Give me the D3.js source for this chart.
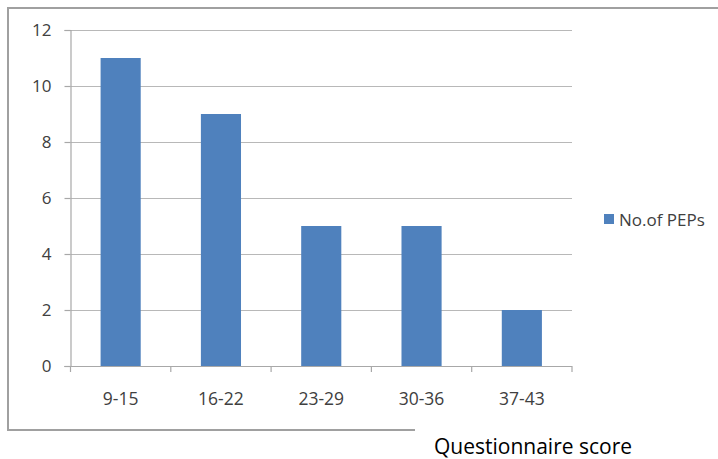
<!DOCTYPE html>
<html>
<head>
<meta charset="utf-8">
<script src="https://cdn.jsdelivr.net/npm/d3@7"></script>
<style>
  html, body { margin: 0; padding: 0; background: #fff; }
  svg { display: block; }
</style>
</head>
<body>
<svg id="chart" width="718" height="459"></svg>
<script>
// Score bands and number of PEPs in each band
const categories = ["9-15", "16-22", "23-29", "30-36", "37-43"];
const counts = [11, 9, 5, 5, 2];
const yTicks = [0, 2, 4, 6, 8, 10, 12];
const seriesName = "No.of PEPs";
const axisTitle = "Questionnaire score";

const svg = d3.select("#chart");
const font = "'Open Sans', 'Liberation Sans', sans-serif";
const textColor = "#404040";

// Outer chart frame (right side runs off the canvas; bottom stops short of the title)
svg.append("path")
  .attr("d", "M718,8 H8 V430 H415")
  .attr("fill", "none")
  .attr("stroke", "#a0a0a0")
  .attr("stroke-width", 2);

const plot = { left: 70.5, right: 572, top: 30, bottom: 366 };

const x = d3.scaleBand()
  .domain(categories)
  .range([plot.left, plot.right])
  .paddingInner(0.6)
  .paddingOuter(0.3);

const y = d3.scaleLinear()
  .domain([0, 12])
  .range([plot.bottom, plot.top]);

// Horizontal gridlines
svg.append("g")
  .selectAll("line")
  .data(yTicks.filter(d => d > 0))
  .join("line")
  .attr("x1", plot.left)
  .attr("x2", plot.right)
  .attr("y1", d => Math.round(y(d)) + 0.5)
  .attr("y2", d => Math.round(y(d)) + 0.5)
  .attr("stroke", "#b8b8b8")
  .attr("stroke-width", 1.2);

// Bars
svg.append("g")
  .selectAll("rect")
  .data(counts)
  .join("rect")
  .attr("x", (d, i) => x(categories[i]))
  .attr("y", d => y(d))
  .attr("width", x.bandwidth())
  .attr("height", d => y(0) - y(d))
  .attr("fill", "#4F81BD");

// Y axis
const yAxis = d3.axisLeft(y).tickValues(yTicks).tickSize(6).tickPadding(13);
const gy = svg.append("g")
  .attr("transform", `translate(${plot.left},0)`)
  .call(yAxis);
gy.select(".domain").attr("stroke", "#a8a8a8").attr("stroke-width", 1.2);
gy.selectAll(".tick line").attr("stroke", "#a8a8a8").attr("stroke-width", 1.2);
gy.selectAll(".tick text")
  .attr("font-family", font)
  .attr("font-size", 17)
  .attr("fill", textColor);

// X axis: category labels, tick marks at category boundaries
const step = (plot.right - plot.left) / categories.length;
svg.append("line")
  .attr("x1", plot.left - 6).attr("x2", plot.right)
  .attr("y1", plot.bottom + 0.5).attr("y2", plot.bottom + 0.5)
  .attr("stroke", "#a8a8a8").attr("stroke-width", 1.2);
svg.append("g")
  .selectAll("line")
  .data(d3.range(categories.length + 1))
  .join("line")
  .attr("x1", i => plot.left + i * step)
  .attr("x2", i => plot.left + i * step)
  .attr("y1", plot.bottom)
  .attr("y2", plot.bottom + 6)
  .attr("stroke", "#a8a8a8").attr("stroke-width", 1.2);
svg.append("g")
  .selectAll("text")
  .data(categories)
  .join("text")
  .attr("x", d => x(d) + x.bandwidth() / 2)
  .attr("y", 405)
  .attr("text-anchor", "middle")
  .attr("font-family", font)
  .attr("font-size", 17.5)
  .attr("fill", textColor)
  .text(d => d);

// Legend
svg.append("rect")
  .attr("x", 604).attr("y", 214)
  .attr("width", 10).attr("height", 10)
  .attr("fill", "#4F81BD");
svg.append("text")
  .attr("x", 619).attr("y", 225.5)
  .attr("font-family", font)
  .attr("font-size", 17)
  .attr("fill", textColor)
  .text(seriesName);

// Axis title below the frame
svg.append("text")
  .attr("x", 434).attr("y", 454)
  .attr("font-family", font)
  .attr("font-size", 21)
  .attr("fill", "#000")
  .text(axisTitle);
</script>
</body>
</html>
